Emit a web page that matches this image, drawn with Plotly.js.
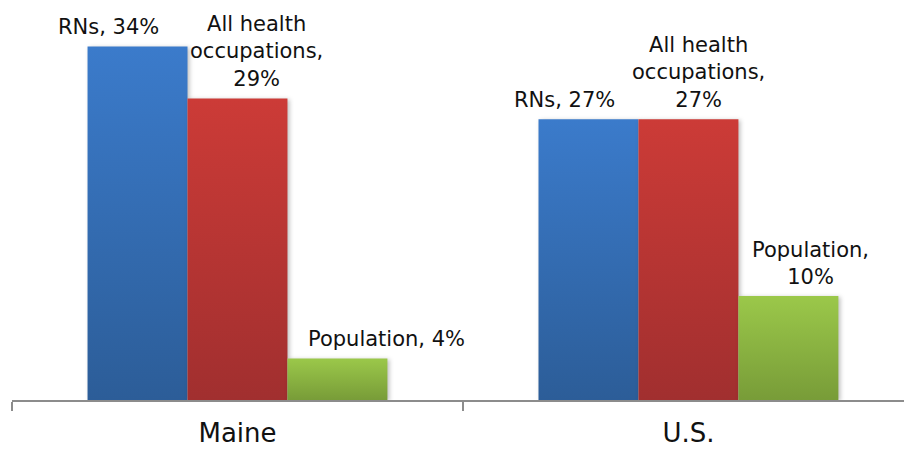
<!DOCTYPE html>
<html>
<head>
<meta charset="utf-8">
<script src="https://cdn.plot.ly/plotly-3.0.1.min.js"></script>
<style>html,body{margin:0;padding:0;background:#fff;}#chart{width:904px;height:451px;}</style>
</head>
<body>
<div id="chart"></div>
<script>
// ---- data ----
const categories = ["Maine", "U.S."];
const seriesNames = ["RNs", "All health occupations", "Population"];
const rnValues = [34, 27];
const allHealthValues = [29, 27];
const populationValues = [4, 10];
// label texts as they appear
const rnLabels = ["RNs, 34%", "RNs, 27%"];
const allHealthLabels = ["All health<br>occupations,<br>29%", "All health<br>occupations,<br>27%"];
const populationLabels = ["Population, 4%", "Population,<br>10%"];

// ---- styles ----
const topColors = ["#3b7bcb", "#cc3b37", "#9bc84a"];
const bottomColors = ["#2c5d98", "#a12f2f", "#789c38"];
const midColors = ["#3470b8", "#b83533", "#8ab442"];
const barOffsets = [-100, 0, 100];            // px offset of each series in a group
const labelShifts = [[-29, -24], [19, 10], [49, 22]]; // extra px shift of labels
const font = "'DejaVu Sans', sans-serif";

const values = [rnValues, allHealthValues, populationValues];
const labels = [rnLabels, allHealthLabels, populationLabels];

const traces = values.map((v, i) => ({
  type: "bar",
  name: seriesNames[i],
  x: categories,
  y: v,
  marker: {color: midColors[i], line: {width: 0}},
  hoverinfo: "none"
}));

const annotations = [];
values.forEach((v, i) => {
  v.forEach((val, j) => {
    annotations.push({
      x: categories[j], y: val, xref: "x", yref: "y",
      text: labels[i][j], showarrow: false,
      xanchor: "center", yanchor: "bottom",
      xshift: barOffsets[i] + labelShifts[i][j], yshift: 5,
      align: "center",
      font: {family: font, size: 21, color: "#111"}
    });
  });
});

const layout = {
  width: 904, height: 451,
  margin: {l: 12, r: 0, t: 0, b: 51},
  paper_bgcolor: "#fff", plot_bgcolor: "#fff",
  barmode: "group", bargap: 0.335, bargroupgap: 0,
  showlegend: false,
  xaxis: {
    type: "category",
    range: [-0.5, 1.478],
    showline: true, linecolor: "#8c8c8c", linewidth: 2,
    ticks: "outside", tickson: "boundaries", ticklen: 9, tickcolor: "#8c8c8c", tickwidth: 1.5,
    showgrid: false, zeroline: false,
    tickfont: {family: font, size: 26, color: "#111"},
    ticklabelstandoff: 9
  },
  yaxis: {
    range: [0, 38.46], visible: false, showgrid: false, zeroline: false
  },
  annotations: annotations
};

Plotly.newPlot("chart", traces, layout, {displayModeBar: false, staticPlot: true}).then(gd => {
  const svg = gd.querySelector("svg.main-svg");
  const NS = "http://www.w3.org/2000/svg";
  let defs = svg.querySelector("defs");
  if (!defs) { defs = document.createElementNS(NS, "defs"); svg.insertBefore(defs, svg.firstChild); }
  topColors.forEach((c, i) => {
    const g = document.createElementNS(NS, "linearGradient");
    g.setAttribute("id", "barGrad" + i);
    g.setAttribute("x1", "0"); g.setAttribute("y1", "0");
    g.setAttribute("x2", "0"); g.setAttribute("y2", "1");
    const s1 = document.createElementNS(NS, "stop");
    s1.setAttribute("offset", "0"); s1.setAttribute("stop-color", c);
    const s2 = document.createElementNS(NS, "stop");
    s2.setAttribute("offset", "1"); s2.setAttribute("stop-color", bottomColors[i]);
    g.appendChild(s1); g.appendChild(s2);
    defs.appendChild(g);
  });
  gd.querySelectorAll(".barlayer .trace.bars").forEach((tr, i) => {
    tr.style.filter = "drop-shadow(2px 1px 2px rgba(0,0,0,0.25))";
    tr.querySelectorAll(".point path").forEach(p => {
      p.style.fill = "url(#barGrad" + i + ")";
    });
  });
});
</script>
</body>
</html>
